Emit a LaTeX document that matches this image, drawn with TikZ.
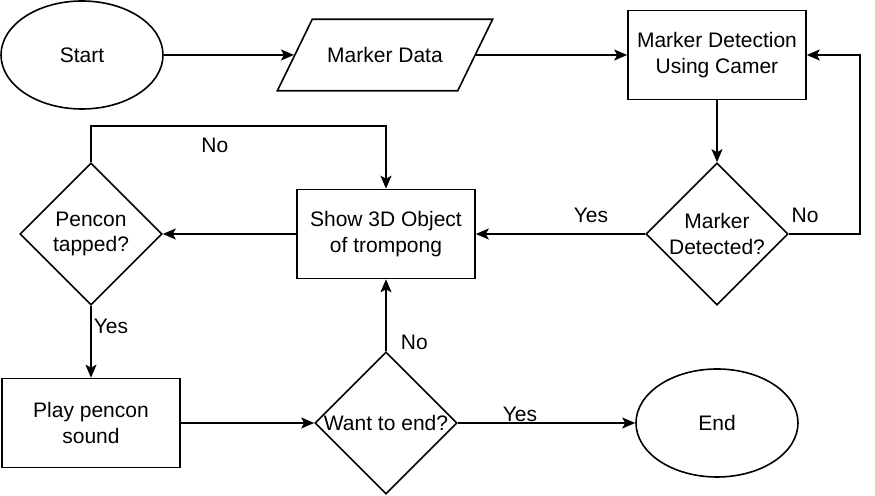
\documentclass[tikz,border=0pt]{standalone}
\usepackage{fontspec}
\setmainfont{Liberation Sans}
\usetikzlibrary{arrows.meta,shapes,positioning}

\begin{document}
\begin{tikzpicture}[->,>={Stealth[length=6.5pt,width=5.5pt,inset=1.5pt]},line width=0.8pt,
                    node distance=150pt,on grid,
                    font=\fontsize{10.5}{12.6}\selectfont,
                    terminal/.style={ellipse,draw,minimum width=81pt,minimum height=54pt},
                    process/.style={rectangle,draw,minimum width=89pt,minimum height=44.5pt,align=center},
                    decision/.style={diamond,draw,aspect=1,minimum size=71pt,inner sep=0pt,align=center},
                    io/.style={trapezium,trapezium left angle=64,trapezium right angle=116,draw,
                               inner xsep=7.5pt,inner ysep=14pt}]

  \useasboundingbox (0,0) rectangle (437.5pt,-248pt);

  \node[terminal] (start)    at (41pt,-27.5pt)            {Start};
  \node[io]       (data)     [right=151.5pt of start]     {Marker Data};
  \node[process]  (detect)   [right=166pt of data]        {Marker Detection\\Using Camer};
  \node[decision] (detected) [below=89.5pt of detect]     {Marker\\Detected?};
  \node[process]  (show)     [left=165.5pt of detected]   {Show 3D Object\\of trompong};
  \node[decision] (tapped)   [left=147.5pt of show]       {Pencon\\tapped?};
  \node[process]  (play)     [below=94.5pt of tapped]     {Play pencon\\sound};
  \node[decision] (wantend)  [right=147.5pt of play]      {Want to end?};
  \node[terminal] (end)      [right=165.5pt of wantend]   {End};

  \path (start)    edge (data)
        (data)     edge (detect)
        (detect)   edge (detected)
        (detected) edge node[above=2pt,pos=0.32] {Yes} (show)
        (show)     edge (tapped)
        (tapped)   edge node[right,inner sep=1pt,pos=0.29] {Yes} (play)
        (play)     edge (wantend)
        (wantend)  edge node[right=3.7pt,pos=0.12] {No} (show)
        (wantend)  edge node[above,inner sep=0pt,pos=0.35] {Yes} (end);

  \draw (detected.east) -- node[above=2pt,pos=0.23] {No} ++(35.5pt,0) |- (detect.east);
  \draw (tapped.north) -- ++(0,18pt) -| node[below=2pt,pos=0.21] {No} (show.north);
\end{tikzpicture}
\end{document}
